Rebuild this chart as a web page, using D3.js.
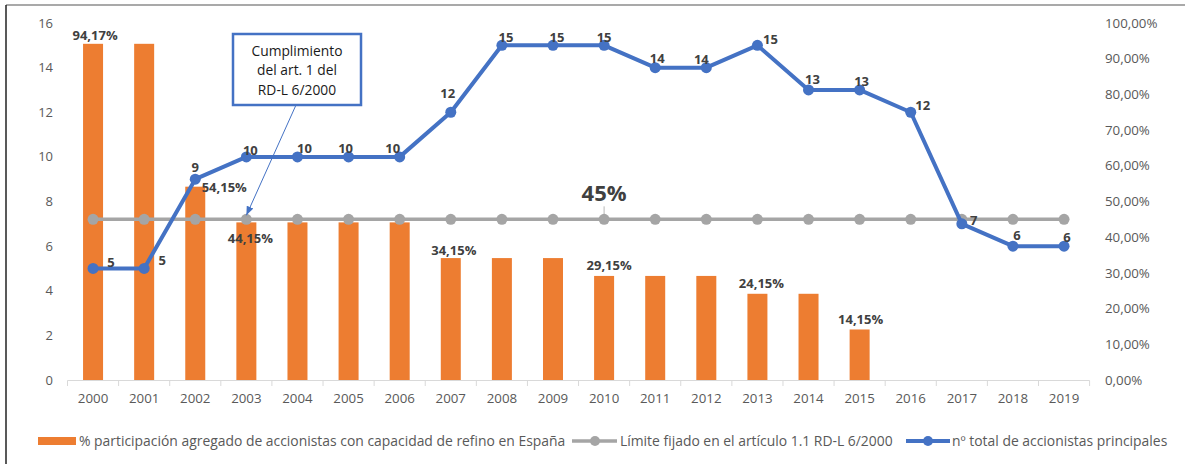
<!DOCTYPE html>
<html>
<head>
<meta charset="utf-8">
<script src="https://cdn.jsdelivr.net/npm/d3@7"></script>
<style>
  html, body { margin: 0; padding: 0; background: #fff; }
  svg { display: block; font-family: "Open Sans", "Noto Sans", sans-serif; }
</style>
</head>
<body>
<svg id="chart" width="1204" height="464"></svg>
<script>
// Data
const years = ["2000","2001","2002","2003","2004","2005","2006","2007","2008","2009",
               "2010","2011","2012","2013","2014","2015","2016","2017","2018","2019"];
// % participación agregado (right axis, fraction), null = no bar
const participacion = [0.9417, 0.9417, 0.5415, 0.4415, 0.4415, 0.4415, 0.4415, 0.3415, 0.3415, 0.3415,
                       0.2915, 0.2915, 0.2915, 0.2415, 0.2415, 0.1415, null, null, null, null];
// Límite fijado (right axis)
const limite = years.map(() => 0.45);
// nº total de accionistas principales (left axis)
const accionistas = [5, 5, 9, 10, 10, 10, 10, 12, 15, 15, 15, 14, 14, 15, 13, 13, 12, 7, 6, 6];
const leftTicks = [0, 2, 4, 6, 8, 10, 12, 14, 16];
const rightTicks = [0, 0.1, 0.2, 0.3, 0.4, 0.5, 0.6, 0.7, 0.8, 0.9, 1.0];
// which bars carry a value label
const barLabelYears = ["2000", "2002", "2003", "2007", "2010", "2013", "2015"];

const legendNames = [
  "% participación agregado de accionistas con capacidad de refino en España",
  "Límite fijado en el artículo 1.1 RD-L 6/2000",
  "nº total de accionistas principales"
];
const calloutLines = ["Cumplimiento", "del art. 1 del", "RD-L 6/2000"];

// label placement tweaks (text centre offset from point, px)
const blueLabelOffset = [[18,-1],[18,-3],[0,-7],[4,-2],[7,-4],[-3,-4],[-7,-4],[-3,-14],[4,-3],[4,-3],
                         [0,-3],[2,-5],[-5,-4],[13,-1],[4,-6],[2,-4],[12,-2],[12,1],[4,-6],[3,-4]];
const barLabelOffset = {"2000":[2,-4],"2002":[29,5],"2003":[4,21],"2007":[3,-3],"2010":[5,-6],"2013":[4,-6],"2015":[1,-5]};

const orange = "#ED7D31", gray = "#A5A5A5", blue = "#4472C4";
const textDark = "#404040", axisText = "#595959";

const locale = d3.formatLocale({decimal: ",", thousands: ".", grouping: [3], currency: ["", "€"]});
const pct2 = locale.format(".2%");

const svg = d3.select("#chart");

const x = d3.scaleBand().domain(years).range([67.5, 1089.6]).padding(0);
const yL = d3.scaleLinear().domain([0, 16]).range([380, 23]);
const yR = d3.scaleLinear().domain([0, 1]).range([380, 23]);
const cx = d => x(d) + x.bandwidth() / 2;

// frame
svg.append("line").attr("x1", 6).attr("x2", 1185).attr("y1", 5).attr("y2", 5)
  .attr("stroke", "#8c8c8c").attr("stroke-width", 1.5);
svg.append("line").attr("x1", 6).attr("x2", 6).attr("y1", 5).attr("y2", 464)
  .attr("stroke", "#222").attr("stroke-width", 1.5);

// left axis labels
svg.append("g").selectAll("text").data(leftTicks).join("text")
  .attr("x", 53).attr("y", d => yL(d)).attr("dy", "0.35em")
  .attr("text-anchor", "end").attr("font-size", 13).attr("fill", axisText)
  .text(d => d);

// right axis labels
svg.append("g").selectAll("text").data(rightTicks).join("text")
  .attr("x", 1105).attr("y", d => yR(d)).attr("dy", "0.35em")
  .attr("text-anchor", "start").attr("font-size", 13.3).attr("fill", axisText)
  .text(d => pct2(d));

// x axis
const xAxis = svg.append("g");
xAxis.append("line").attr("x1", 67.5).attr("x2", 1089.6).attr("y1", 380.5).attr("y2", 380.5)
  .attr("stroke", "#D9D9D9").attr("stroke-width", 1);
xAxis.selectAll("line.tick").data(years.concat(["end"])).join("line").attr("class", "tick")
  .attr("x1", (d, i) => i < years.length ? x(d) : x.range()[1])
  .attr("x2", (d, i) => i < years.length ? x(d) : x.range()[1])
  .attr("y1", 380.5).attr("y2", 386).attr("stroke", "#D9D9D9");
xAxis.selectAll("text").data(years).join("text")
  .attr("x", d => cx(d)).attr("y", 403)
  .attr("text-anchor", "middle").attr("font-size", 13.3).attr("fill", axisText)
  .text(d => d);

// bars
const barW = 20;
svg.append("g").selectAll("rect")
  .data(years.map((y, i) => ({year: y, v: participacion[i]})).filter(d => d.v != null))
  .join("rect")
  .attr("x", d => cx(d.year) - barW / 2)
  .attr("y", d => yR(d.v))
  .attr("width", barW)
  .attr("height", d => yR(0) - yR(d.v))
  .attr("fill", orange);

// gray limit line
const grayPts = years.map((y, i) => [cx(y), yR(limite[i])]);
svg.append("path").attr("d", d3.line()(grayPts))
  .attr("fill", "none").attr("stroke", gray).attr("stroke-width", 3.5);
svg.append("g").selectAll("circle").data(grayPts).join("circle")
  .attr("cx", d => d[0]).attr("cy", d => d[1]).attr("r", 5.5).attr("fill", gray);

// blue line
const bluePts = years.map((y, i) => [cx(y), yL(accionistas[i])]);
svg.append("path").attr("d", d3.line()(bluePts))
  .attr("fill", "none").attr("stroke", blue).attr("stroke-width", 4).attr("stroke-linejoin", "round");
svg.append("g").selectAll("circle").data(bluePts).join("circle")
  .attr("cx", d => d[0]).attr("cy", d => d[1]).attr("r", 5.5).attr("fill", blue);

// blue labels
svg.append("g").selectAll("text").data(bluePts).join("text")
  .attr("x", (d, i) => d[0] + blueLabelOffset[i][0])
  .attr("y", (d, i) => d[1] + blueLabelOffset[i][1])
  .attr("text-anchor", "middle").attr("font-size", 13).attr("font-weight", "bold").attr("fill", textDark)
  .text((d, i) => accionistas[i]);

// bar labels
svg.append("g").selectAll("text").data(barLabelYears).join("text")
  .attr("x", d => cx(d) + barLabelOffset[d][0])
  .attr("y", d => yR(participacion[years.indexOf(d)]) + barLabelOffset[d][1])
  .attr("text-anchor", "middle").attr("font-size", 13).attr("font-weight", "bold").attr("fill", textDark)
  .text(d => pct2(participacion[years.indexOf(d)]));

// 45% label on the limit line
const lim45 = [cx("2010"), yR(limite[10])];
svg.append("line").attr("x1", lim45[0]).attr("x2", lim45[0]).attr("y1", lim45[1] - 13).attr("y2", lim45[1] - 5)
  .attr("stroke", gray).attr("stroke-width", 0.8);
svg.append("text").attr("x", lim45[0]).attr("y", lim45[1] - 18)
  .attr("text-anchor", "middle").attr("font-size", 22).attr("font-weight", "bold").attr("fill", textDark)
  .text(locale.format(".0%")(limite[10]));

// callout
svg.append("defs").append("marker").attr("id", "arrow")
  .attr("viewBox", "0 0 10 10").attr("refX", 10).attr("refY", 5)
  .attr("markerWidth", 9).attr("markerHeight", 9).attr("orient", "auto")
  .append("path").attr("d", "M0,1 L10,5 L0,9 Z").attr("fill", blue);
const tip = [cx("2003"), yR(limite[3]) - 4];
svg.append("line").attr("x1", 296).attr("y1", 105).attr("x2", tip[0]).attr("y2", tip[1])
  .attr("stroke", blue).attr("stroke-width", 1).attr("marker-end", "url(#arrow)");
svg.append("rect").attr("x", 233).attr("y", 34).attr("width", 128).attr("height", 71)
  .attr("fill", "#fff").attr("stroke", blue).attr("stroke-width", 2.5);
svg.append("g").selectAll("text").data(calloutLines).join("text")
  .attr("x", 297).attr("y", (d, i) => 55.5 + i * 19.5)
  .attr("text-anchor", "middle").attr("font-size", 13.8).attr("fill", "#1a1a1a")
  .text(d => d);

// legend
const leg = svg.append("g").attr("font-size", 13.9).attr("fill", axisText);
leg.append("rect").attr("x", 38).attr("y", 437).attr("width", 38).attr("height", 8).attr("fill", orange);
leg.append("text").attr("x", 79).attr("y", 441).attr("dy", "0.35em").text(legendNames[0]);
leg.append("line").attr("x1", 572).attr("x2", 617).attr("y1", 441).attr("y2", 441)
  .attr("stroke", gray).attr("stroke-width", 3.5);
leg.append("circle").attr("cx", 595).attr("cy", 441).attr("r", 5).attr("fill", gray);
leg.append("text").attr("x", 620).attr("y", 441).attr("dy", "0.35em").text(legendNames[1]);
leg.append("line").attr("x1", 906).attr("x2", 950).attr("y1", 441).attr("y2", 441)
  .attr("stroke", blue).attr("stroke-width", 4);
leg.append("circle").attr("cx", 928).attr("cy", 441).attr("r", 5).attr("fill", blue);
leg.append("text").attr("x", 952).attr("y", 441).attr("dy", "0.35em").text(legendNames[2]);
</script>
</body>
</html>
